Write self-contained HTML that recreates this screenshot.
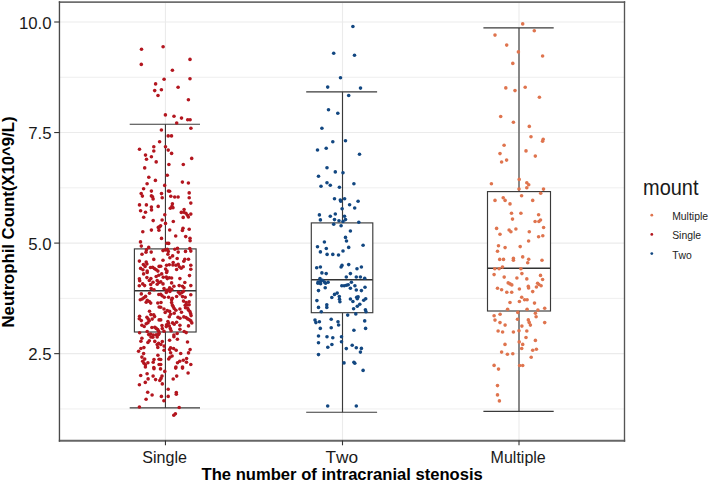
<!DOCTYPE html><html><head><meta charset="utf-8"><style>svg text{font-kerning:none}html,body{margin:0;padding:0;background:#fff;width:709px;height:483px;overflow:hidden}</style></head><body><svg width="709" height="483" viewBox="0 0 709 483" style="position:absolute;left:0;top:0">
<rect x="0" y="0" width="709" height="483" fill="#fff"/>
<line x1="59.6" x2="624.4" y1="408.93" y2="408.93" stroke="#ebebeb" stroke-width="0.8"/>
<line x1="59.6" x2="624.4" y1="298.38" y2="298.38" stroke="#ebebeb" stroke-width="0.8"/>
<line x1="59.6" x2="624.4" y1="187.82" y2="187.82" stroke="#ebebeb" stroke-width="0.8"/>
<line x1="59.6" x2="624.4" y1="77.28" y2="77.28" stroke="#ebebeb" stroke-width="0.8"/>
<line x1="59.6" x2="624.4" y1="353.65" y2="353.65" stroke="#ebebeb" stroke-width="1.1"/>
<line x1="59.6" x2="624.4" y1="243.10" y2="243.10" stroke="#ebebeb" stroke-width="1.1"/>
<line x1="59.6" x2="624.4" y1="132.55" y2="132.55" stroke="#ebebeb" stroke-width="1.1"/>
<line x1="59.6" x2="624.4" y1="22.00" y2="22.00" stroke="#ebebeb" stroke-width="1.1"/>
<line x1="165.45" x2="165.45" y1="1.7" y2="440.5" stroke="#ebebeb" stroke-width="1.1"/>
<line x1="342.5" x2="342.5" y1="1.7" y2="440.5" stroke="#ebebeb" stroke-width="1.1"/>
<line x1="519.0" x2="519.0" y1="1.7" y2="440.5" stroke="#ebebeb" stroke-width="1.1"/>
<line x1="129.7" x2="200.0" y1="124.2" y2="124.2" stroke="#3a3a3a" stroke-width="1.15" fill="none"/>
<line x1="129.7" x2="200.0" y1="407.9" y2="407.9" stroke="#3a3a3a" stroke-width="1.15" fill="none"/>
<line x1="165.45" x2="165.45" y1="124.2" y2="248.9" stroke="#3a3a3a" stroke-width="1.15" fill="none"/>
<line x1="165.45" x2="165.45" y1="332.0" y2="407.9" stroke="#3a3a3a" stroke-width="1.15" fill="none"/>
<rect x="134.4" y="248.9" width="61.70" height="83.10" stroke="#3a3a3a" stroke-width="1.15" fill="#fff"/>
<line x1="134.4" x2="196.1" y1="290.8" y2="290.8" stroke="#333" stroke-width="1.6"/>
<line x1="306.2" x2="377.1" y1="91.8" y2="91.8" stroke="#3a3a3a" stroke-width="1.15" fill="none"/>
<line x1="306.2" x2="377.1" y1="412.2" y2="412.2" stroke="#3a3a3a" stroke-width="1.15" fill="none"/>
<line x1="342.5" x2="342.5" y1="91.8" y2="222.9" stroke="#3a3a3a" stroke-width="1.15" fill="none"/>
<line x1="342.5" x2="342.5" y1="312.7" y2="412.2" stroke="#3a3a3a" stroke-width="1.15" fill="none"/>
<rect x="311.3" y="222.9" width="61.50" height="89.80" stroke="#3a3a3a" stroke-width="1.15" fill="#fff"/>
<line x1="311.3" x2="372.8" y1="279.8" y2="279.8" stroke="#333" stroke-width="1.6"/>
<line x1="483.4" x2="553.7" y1="27.9" y2="27.9" stroke="#3a3a3a" stroke-width="1.15" fill="none"/>
<line x1="483.4" x2="553.7" y1="411.3" y2="411.3" stroke="#3a3a3a" stroke-width="1.15" fill="none"/>
<line x1="519.0" x2="519.0" y1="27.9" y2="191.6" stroke="#3a3a3a" stroke-width="1.15" fill="none"/>
<line x1="519.0" x2="519.0" y1="311.0" y2="411.3" stroke="#3a3a3a" stroke-width="1.15" fill="none"/>
<rect x="487.5" y="191.6" width="63.00" height="119.40" stroke="#3a3a3a" stroke-width="1.15" fill="#fff"/>
<line x1="487.5" x2="550.5" y1="268.3" y2="268.3" stroke="#333" stroke-width="1.6"/>
<g fill="#B3161F"><circle cx="141.5" cy="49.3" r="1.8"/><circle cx="163.1" cy="46.8" r="1.8"/><circle cx="190.0" cy="59.4" r="1.8"/><circle cx="141.3" cy="64.4" r="1.8"/><circle cx="172.4" cy="70.2" r="1.8"/><circle cx="164.1" cy="79.3" r="1.8"/><circle cx="190.0" cy="78.7" r="1.8"/><circle cx="155.6" cy="83.9" r="1.8"/><circle cx="178.1" cy="87.2" r="1.8"/><circle cx="154.7" cy="90.6" r="1.8"/><circle cx="161.4" cy="89.7" r="1.8"/><circle cx="158.0" cy="95.5" r="1.8"/><circle cx="188.4" cy="99.7" r="1.8"/><circle cx="165.4" cy="114.9" r="1.8"/><circle cx="174.0" cy="116.3" r="1.8"/><circle cx="181.5" cy="118.1" r="1.8"/><circle cx="187.7" cy="119.7" r="1.8"/><circle cx="190.1" cy="119.7" r="1.8"/><circle cx="176.7" cy="123.0" r="1.8"/><circle cx="190.9" cy="128.3" r="1.8"/><circle cx="161.4" cy="130.0" r="1.8"/><circle cx="168.2" cy="135.9" r="1.8"/><circle cx="171.5" cy="135.9" r="1.8"/><circle cx="159.6" cy="141.7" r="1.8"/><circle cx="153.8" cy="146.7" r="1.8"/><circle cx="165.5" cy="146.7" r="1.8"/><circle cx="139.5" cy="149.3" r="1.8"/><circle cx="153.8" cy="151.0" r="1.8"/><circle cx="168.2" cy="150.1" r="1.8"/><circle cx="171.6" cy="153.4" r="1.8"/><circle cx="145.5" cy="155.1" r="1.8"/><circle cx="151.4" cy="156.7" r="1.8"/><circle cx="146.5" cy="159.3" r="1.8"/><circle cx="191.7" cy="158.4" r="1.8"/><circle cx="156.2" cy="161.9" r="1.8"/><circle cx="168.9" cy="164.5" r="1.8"/><circle cx="183.3" cy="164.5" r="1.8"/><circle cx="144.7" cy="167.9" r="1.8"/><circle cx="167.3" cy="175.2" r="1.8"/><circle cx="148.8" cy="177.2" r="1.8"/><circle cx="155.4" cy="180.4" r="1.8"/><circle cx="182.4" cy="182.1" r="1.8"/><circle cx="188.4" cy="183.0" r="1.8"/><circle cx="147.1" cy="183.7" r="1.8"/><circle cx="164.7" cy="185.4" r="1.8"/><circle cx="143.6" cy="188.8" r="1.8"/><circle cx="168.4" cy="191.0" r="1.8"/><circle cx="169.6" cy="191.3" r="1.8"/><circle cx="151.4" cy="191.1" r="1.8"/><circle cx="141.2" cy="193.5" r="1.8"/><circle cx="142.4" cy="196.1" r="1.8"/><circle cx="161.5" cy="193.6" r="1.8"/><circle cx="151.4" cy="195.9" r="1.8"/><circle cx="152.5" cy="196.7" r="1.8"/><circle cx="189.2" cy="192.9" r="1.8"/><circle cx="170.8" cy="196.2" r="1.8"/><circle cx="174.7" cy="197.0" r="1.8"/><circle cx="178.1" cy="197.0" r="1.8"/><circle cx="189.2" cy="197.8" r="1.8"/><circle cx="162.2" cy="197.8" r="1.8"/><circle cx="153.1" cy="198.9" r="1.8"/><circle cx="139.5" cy="204.9" r="1.8"/><circle cx="146.4" cy="204.9" r="1.8"/><circle cx="151.4" cy="207.1" r="1.8"/><circle cx="151.5" cy="209.9" r="1.8"/><circle cx="158.2" cy="206.4" r="1.8"/><circle cx="140.6" cy="210.7" r="1.8"/><circle cx="145.5" cy="212.2" r="1.8"/><circle cx="143.7" cy="217.3" r="1.8"/><circle cx="153.2" cy="220.6" r="1.8"/><circle cx="162.1" cy="220.0" r="1.8"/><circle cx="164.8" cy="214.7" r="1.8"/><circle cx="165.5" cy="223.4" r="1.8"/><circle cx="158.3" cy="227.4" r="1.8"/><circle cx="159.6" cy="226.9" r="1.8"/><circle cx="160.6" cy="225.7" r="1.8"/><circle cx="158.9" cy="230.2" r="1.8"/><circle cx="151.4" cy="230.1" r="1.8"/><circle cx="142.8" cy="231.8" r="1.8"/><circle cx="161.5" cy="238.4" r="1.8"/><circle cx="172.4" cy="203.7" r="1.8"/><circle cx="172.0" cy="206.2" r="1.8"/><circle cx="170.3" cy="208.3" r="1.8"/><circle cx="173.0" cy="207.7" r="1.8"/><circle cx="190.8" cy="203.1" r="1.8"/><circle cx="184.1" cy="209.5" r="1.8"/><circle cx="181.3" cy="212.4" r="1.8"/><circle cx="183.8" cy="212.3" r="1.8"/><circle cx="185.9" cy="213.3" r="1.8"/><circle cx="187.5" cy="215.3" r="1.8"/><circle cx="188.4" cy="217.0" r="1.8"/><circle cx="190.8" cy="214.1" r="1.8"/><circle cx="183.2" cy="217.4" r="1.8"/><circle cx="173.3" cy="221.5" r="1.8"/><circle cx="169.7" cy="230.0" r="1.8"/><circle cx="183.0" cy="228.2" r="1.8"/><circle cx="182.4" cy="230.5" r="1.8"/><circle cx="189.2" cy="229.2" r="1.8"/><circle cx="175.7" cy="236.0" r="1.8"/><circle cx="185.7" cy="236.6" r="1.8"/><circle cx="190.0" cy="238.3" r="1.8"/><circle cx="154.0" cy="368.7" r="1.8"/><circle cx="160.5" cy="368.9" r="1.8"/><circle cx="164.8" cy="371.4" r="1.8"/><circle cx="175.7" cy="368.1" r="1.8"/><circle cx="182.5" cy="368.1" r="1.8"/><circle cx="188.1" cy="373.0" r="1.8"/><circle cx="140.7" cy="375.5" r="1.8"/><circle cx="147.1" cy="373.7" r="1.8"/><circle cx="153.1" cy="376.1" r="1.8"/><circle cx="162.0" cy="376.1" r="1.8"/><circle cx="161.0" cy="378.4" r="1.8"/><circle cx="159.8" cy="380.5" r="1.8"/><circle cx="148.1" cy="378.9" r="1.8"/><circle cx="155.6" cy="379.6" r="1.8"/><circle cx="145.3" cy="382.4" r="1.8"/><circle cx="139.4" cy="384.8" r="1.8"/><circle cx="162.3" cy="383.9" r="1.8"/><circle cx="173.2" cy="379.0" r="1.8"/><circle cx="176.7" cy="376.1" r="1.8"/><circle cx="168.2" cy="389.2" r="1.8"/><circle cx="176.3" cy="392.5" r="1.8"/><circle cx="176.3" cy="394.2" r="1.8"/><circle cx="147.7" cy="392.3" r="1.8"/><circle cx="152.1" cy="395.0" r="1.8"/><circle cx="161.4" cy="396.4" r="1.8"/><circle cx="168.2" cy="396.4" r="1.8"/><circle cx="146.1" cy="399.3" r="1.8"/><circle cx="163.9" cy="400.7" r="1.8"/><circle cx="139.4" cy="407.0" r="1.8"/><circle cx="179.2" cy="407.5" r="1.8"/><circle cx="175.4" cy="413.7" r="1.8"/><circle cx="173.8" cy="415.3" r="1.8"/><circle cx="140.5" cy="241.9" r="1.8"/><circle cx="141.3" cy="246.1" r="1.8"/><circle cx="148.7" cy="247.4" r="1.8"/><circle cx="146.4" cy="249.9" r="1.8"/><circle cx="146.0" cy="252.3" r="1.8"/><circle cx="151.2" cy="252.1" r="1.8"/><circle cx="142.0" cy="254.2" r="1.8"/><circle cx="153.8" cy="259.4" r="1.8"/><circle cx="139.4" cy="261.1" r="1.8"/><circle cx="146.2" cy="262.0" r="1.8"/><circle cx="146.9" cy="264.0" r="1.8"/><circle cx="143.4" cy="264.6" r="1.8"/><circle cx="145.1" cy="266.5" r="1.8"/><circle cx="140.6" cy="268.4" r="1.8"/><circle cx="142.9" cy="269.8" r="1.8"/><circle cx="150.5" cy="267.5" r="1.8"/><circle cx="152.6" cy="267.2" r="1.8"/><circle cx="154.4" cy="268.6" r="1.8"/><circle cx="156.2" cy="269.8" r="1.8"/><circle cx="159.1" cy="266.4" r="1.8"/><circle cx="147.2" cy="271.0" r="1.8"/><circle cx="157.9" cy="271.1" r="1.8"/><circle cx="190.1" cy="240.8" r="1.8"/><circle cx="167.0" cy="243.3" r="1.8"/><circle cx="168.7" cy="243.4" r="1.8"/><circle cx="163.0" cy="250.6" r="1.8"/><circle cx="165.4" cy="249.9" r="1.8"/><circle cx="167.3" cy="249.3" r="1.8"/><circle cx="168.3" cy="251.4" r="1.8"/><circle cx="167.9" cy="254.2" r="1.8"/><circle cx="174.9" cy="249.3" r="1.8"/><circle cx="177.5" cy="248.3" r="1.8"/><circle cx="178.2" cy="252.1" r="1.8"/><circle cx="185.5" cy="251.4" r="1.8"/><circle cx="189.8" cy="248.6" r="1.8"/><circle cx="190.8" cy="251.1" r="1.8"/><circle cx="172.6" cy="255.9" r="1.8"/><circle cx="169.9" cy="257.7" r="1.8"/><circle cx="177.2" cy="258.5" r="1.8"/><circle cx="163.0" cy="260.2" r="1.8"/><circle cx="184.8" cy="259.2" r="1.8"/><circle cx="188.5" cy="259.3" r="1.8"/><circle cx="183.8" cy="261.3" r="1.8"/><circle cx="173.2" cy="262.5" r="1.8"/><circle cx="172.9" cy="265.0" r="1.8"/><circle cx="166.6" cy="265.3" r="1.8"/><circle cx="169.3" cy="264.8" r="1.8"/><circle cx="175.9" cy="265.2" r="1.8"/><circle cx="178.2" cy="264.2" r="1.8"/><circle cx="179.3" cy="266.8" r="1.8"/><circle cx="183.2" cy="266.8" r="1.8"/><circle cx="181.2" cy="268.3" r="1.8"/><circle cx="176.6" cy="269.5" r="1.8"/><circle cx="160.7" cy="266.2" r="1.8"/><circle cx="165.6" cy="269.1" r="1.8"/><circle cx="167.0" cy="271.0" r="1.8"/><circle cx="190.8" cy="265.2" r="1.8"/><circle cx="190.8" cy="269.3" r="1.8"/><circle cx="143.6" cy="273.9" r="1.8"/><circle cx="147.2" cy="272.5" r="1.8"/><circle cx="139.4" cy="278.8" r="1.8"/><circle cx="139.7" cy="280.7" r="1.8"/><circle cx="146.9" cy="277.6" r="1.8"/><circle cx="150.9" cy="278.6" r="1.8"/><circle cx="149.3" cy="280.5" r="1.8"/><circle cx="153.0" cy="282.3" r="1.8"/><circle cx="150.7" cy="284.5" r="1.8"/><circle cx="156.2" cy="276.5" r="1.8"/><circle cx="158.8" cy="275.3" r="1.8"/><circle cx="157.2" cy="280.5" r="1.8"/><circle cx="158.8" cy="282.6" r="1.8"/><circle cx="157.2" cy="284.3" r="1.8"/><circle cx="142.7" cy="283.9" r="1.8"/><circle cx="144.6" cy="285.6" r="1.8"/><circle cx="139.3" cy="285.8" r="1.8"/><circle cx="151.2" cy="288.6" r="1.8"/><circle cx="154.0" cy="289.8" r="1.8"/><circle cx="149.5" cy="293.2" r="1.8"/><circle cx="141.3" cy="293.9" r="1.8"/><circle cx="145.6" cy="296.4" r="1.8"/><circle cx="143.9" cy="297.7" r="1.8"/><circle cx="140.3" cy="299.7" r="1.8"/><circle cx="142.2" cy="299.0" r="1.8"/><circle cx="147.3" cy="300.4" r="1.8"/><circle cx="149.3" cy="301.5" r="1.8"/><circle cx="146.2" cy="302.3" r="1.8"/><circle cx="150.7" cy="303.1" r="1.8"/><circle cx="158.8" cy="294.5" r="1.8"/><circle cx="157.8" cy="303.0" r="1.8"/><circle cx="166.6" cy="272.5" r="1.8"/><circle cx="161.7" cy="273.9" r="1.8"/><circle cx="163.3" cy="277.2" r="1.8"/><circle cx="166.3" cy="277.0" r="1.8"/><circle cx="167.3" cy="278.6" r="1.8"/><circle cx="169.3" cy="277.8" r="1.8"/><circle cx="171.6" cy="278.0" r="1.8"/><circle cx="179.9" cy="278.6" r="1.8"/><circle cx="189.5" cy="275.6" r="1.8"/><circle cx="160.8" cy="281.9" r="1.8"/><circle cx="163.0" cy="283.9" r="1.8"/><circle cx="171.6" cy="282.9" r="1.8"/><circle cx="173.9" cy="286.2" r="1.8"/><circle cx="179.2" cy="285.6" r="1.8"/><circle cx="182.5" cy="286.2" r="1.8"/><circle cx="184.0" cy="287.8" r="1.8"/><circle cx="184.8" cy="282.5" r="1.8"/><circle cx="190.8" cy="285.6" r="1.8"/><circle cx="164.0" cy="288.6" r="1.8"/><circle cx="169.6" cy="287.9" r="1.8"/><circle cx="166.6" cy="290.4" r="1.8"/><circle cx="168.6" cy="289.7" r="1.8"/><circle cx="171.8" cy="289.4" r="1.8"/><circle cx="166.3" cy="292.5" r="1.8"/><circle cx="169.9" cy="291.5" r="1.8"/><circle cx="178.5" cy="292.2" r="1.8"/><circle cx="180.0" cy="294.0" r="1.8"/><circle cx="182.0" cy="292.5" r="1.8"/><circle cx="183.5" cy="291.3" r="1.8"/><circle cx="160.7" cy="294.2" r="1.8"/><circle cx="162.1" cy="295.7" r="1.8"/><circle cx="164.3" cy="297.2" r="1.8"/><circle cx="168.6" cy="297.2" r="1.8"/><circle cx="172.3" cy="298.2" r="1.8"/><circle cx="171.6" cy="299.8" r="1.8"/><circle cx="176.6" cy="296.5" r="1.8"/><circle cx="182.5" cy="296.6" r="1.8"/><circle cx="185.2" cy="297.3" r="1.8"/><circle cx="190.8" cy="294.8" r="1.8"/><circle cx="171.6" cy="302.5" r="1.8"/><circle cx="183.5" cy="301.1" r="1.8"/><circle cx="186.2" cy="302.6" r="1.8"/><circle cx="189.1" cy="301.8" r="1.8"/><circle cx="161.0" cy="302.5" r="1.8"/><circle cx="159.1" cy="307.0" r="1.8"/><circle cx="149.5" cy="311.3" r="1.8"/><circle cx="150.9" cy="314.6" r="1.8"/><circle cx="153.7" cy="314.7" r="1.8"/><circle cx="154.6" cy="316.6" r="1.8"/><circle cx="152.2" cy="319.1" r="1.8"/><circle cx="139.6" cy="316.3" r="1.8"/><circle cx="139.3" cy="318.7" r="1.8"/><circle cx="141.3" cy="320.6" r="1.8"/><circle cx="146.9" cy="317.3" r="1.8"/><circle cx="148.2" cy="319.1" r="1.8"/><circle cx="149.3" cy="320.7" r="1.8"/><circle cx="147.9" cy="322.7" r="1.8"/><circle cx="146.2" cy="323.7" r="1.8"/><circle cx="141.9" cy="325.2" r="1.8"/><circle cx="144.2" cy="326.5" r="1.8"/><circle cx="159.1" cy="319.9" r="1.8"/><circle cx="151.9" cy="327.5" r="1.8"/><circle cx="154.8" cy="327.2" r="1.8"/><circle cx="156.2" cy="328.4" r="1.8"/><circle cx="157.7" cy="329.5" r="1.8"/><circle cx="158.6" cy="331.2" r="1.8"/><circle cx="159.1" cy="333.2" r="1.8"/><circle cx="139.6" cy="332.8" r="1.8"/><circle cx="147.2" cy="331.5" r="1.8"/><circle cx="148.7" cy="334.6" r="1.8"/><circle cx="150.7" cy="334.1" r="1.8"/><circle cx="153.3" cy="335.1" r="1.8"/><circle cx="156.2" cy="334.8" r="1.8"/><circle cx="158.6" cy="334.6" r="1.8"/><circle cx="172.3" cy="305.0" r="1.8"/><circle cx="173.2" cy="306.6" r="1.8"/><circle cx="185.2" cy="305.3" r="1.8"/><circle cx="187.3" cy="305.0" r="1.8"/><circle cx="189.1" cy="304.8" r="1.8"/><circle cx="185.5" cy="307.8" r="1.8"/><circle cx="187.8" cy="308.5" r="1.8"/><circle cx="188.6" cy="310.3" r="1.8"/><circle cx="189.9" cy="311.6" r="1.8"/><circle cx="190.6" cy="313.6" r="1.8"/><circle cx="191.1" cy="315.6" r="1.8"/><circle cx="160.7" cy="307.3" r="1.8"/><circle cx="164.0" cy="309.0" r="1.8"/><circle cx="165.2" cy="312.5" r="1.8"/><circle cx="167.3" cy="310.6" r="1.8"/><circle cx="169.6" cy="311.4" r="1.8"/><circle cx="170.6" cy="314.3" r="1.8"/><circle cx="169.3" cy="316.7" r="1.8"/><circle cx="174.2" cy="313.3" r="1.8"/><circle cx="174.2" cy="308.5" r="1.8"/><circle cx="175.9" cy="310.3" r="1.8"/><circle cx="179.9" cy="309.0" r="1.8"/><circle cx="181.5" cy="312.3" r="1.8"/><circle cx="178.0" cy="317.2" r="1.8"/><circle cx="180.0" cy="318.2" r="1.8"/><circle cx="183.8" cy="316.9" r="1.8"/><circle cx="186.0" cy="317.6" r="1.8"/><circle cx="187.7" cy="318.9" r="1.8"/><circle cx="189.3" cy="319.8" r="1.8"/><circle cx="190.8" cy="320.9" r="1.8"/><circle cx="191.8" cy="322.9" r="1.8"/><circle cx="160.7" cy="319.9" r="1.8"/><circle cx="167.9" cy="321.5" r="1.8"/><circle cx="168.6" cy="323.3" r="1.8"/><circle cx="166.6" cy="324.7" r="1.8"/><circle cx="166.3" cy="326.6" r="1.8"/><circle cx="162.0" cy="325.5" r="1.8"/><circle cx="162.3" cy="328.6" r="1.8"/><circle cx="164.0" cy="331.3" r="1.8"/><circle cx="169.3" cy="326.0" r="1.8"/><circle cx="170.3" cy="328.6" r="1.8"/><circle cx="171.1" cy="330.8" r="1.8"/><circle cx="172.6" cy="322.9" r="1.8"/><circle cx="174.2" cy="324.2" r="1.8"/><circle cx="176.6" cy="322.2" r="1.8"/><circle cx="179.9" cy="325.2" r="1.8"/><circle cx="179.9" cy="329.2" r="1.8"/><circle cx="188.5" cy="325.9" r="1.8"/><circle cx="184.2" cy="331.5" r="1.8"/><circle cx="186.2" cy="332.6" r="1.8"/><circle cx="177.2" cy="333.5" r="1.8"/><circle cx="173.9" cy="335.1" r="1.8"/><circle cx="141.9" cy="338.3" r="1.8"/><circle cx="140.9" cy="341.2" r="1.8"/><circle cx="147.9" cy="342.5" r="1.8"/><circle cx="149.3" cy="340.8" r="1.8"/><circle cx="150.9" cy="337.0" r="1.8"/><circle cx="152.8" cy="337.2" r="1.8"/><circle cx="157.2" cy="337.0" r="1.8"/><circle cx="154.8" cy="341.4" r="1.8"/><circle cx="157.2" cy="344.6" r="1.8"/><circle cx="158.6" cy="343.4" r="1.8"/><circle cx="157.8" cy="347.4" r="1.8"/><circle cx="140.9" cy="348.5" r="1.8"/><circle cx="143.9" cy="347.6" r="1.8"/><circle cx="138.6" cy="351.2" r="1.8"/><circle cx="143.6" cy="353.6" r="1.8"/><circle cx="141.9" cy="357.1" r="1.8"/><circle cx="144.7" cy="359.1" r="1.8"/><circle cx="142.7" cy="361.2" r="1.8"/><circle cx="144.0" cy="363.2" r="1.8"/><circle cx="145.4" cy="364.8" r="1.8"/><circle cx="147.9" cy="362.8" r="1.8"/><circle cx="154.0" cy="359.5" r="1.8"/><circle cx="153.2" cy="362.2" r="1.8"/><circle cx="157.9" cy="355.2" r="1.8"/><circle cx="159.1" cy="359.2" r="1.8"/><circle cx="159.1" cy="364.5" r="1.8"/><circle cx="153.8" cy="367.5" r="1.8"/><circle cx="145.4" cy="367.0" r="1.8"/><circle cx="173.9" cy="336.7" r="1.8"/><circle cx="169.6" cy="340.3" r="1.8"/><circle cx="177.4" cy="339.3" r="1.8"/><circle cx="187.5" cy="342.0" r="1.8"/><circle cx="162.3" cy="341.6" r="1.8"/><circle cx="160.8" cy="344.5" r="1.8"/><circle cx="164.1" cy="346.1" r="1.8"/><circle cx="164.1" cy="350.2" r="1.8"/><circle cx="170.6" cy="347.8" r="1.8"/><circle cx="169.6" cy="349.6" r="1.8"/><circle cx="173.6" cy="348.5" r="1.8"/><circle cx="176.2" cy="350.2" r="1.8"/><circle cx="170.6" cy="352.7" r="1.8"/><circle cx="172.1" cy="356.0" r="1.8"/><circle cx="169.9" cy="357.3" r="1.8"/><circle cx="168.7" cy="359.0" r="1.8"/><circle cx="180.7" cy="353.5" r="1.8"/><circle cx="190.1" cy="349.6" r="1.8"/><circle cx="188.5" cy="352.9" r="1.8"/><circle cx="186.6" cy="358.5" r="1.8"/><circle cx="183.3" cy="360.2" r="1.8"/><circle cx="179.7" cy="361.2" r="1.8"/><circle cx="177.5" cy="362.8" r="1.8"/><circle cx="186.5" cy="362.2" r="1.8"/><circle cx="190.8" cy="364.5" r="1.8"/><circle cx="160.7" cy="359.5" r="1.8"/><circle cx="160.7" cy="364.5" r="1.8"/><circle cx="175.9" cy="367.1" r="1.8"/><circle cx="182.5" cy="367.1" r="1.8"/></g>
<g fill="#124781"><circle cx="352.9" cy="26.5" r="1.8"/><circle cx="333.7" cy="53.3" r="1.8"/><circle cx="354.5" cy="55.2" r="1.8"/><circle cx="340.5" cy="77.8" r="1.8"/><circle cx="327.7" cy="87.1" r="1.8"/><circle cx="360.5" cy="88.1" r="1.8"/><circle cx="348.7" cy="95.5" r="1.8"/><circle cx="328.5" cy="109.8" r="1.8"/><circle cx="337.8" cy="113.2" r="1.8"/><circle cx="321.9" cy="128.2" r="1.8"/><circle cx="332.8" cy="141.7" r="1.8"/><circle cx="345.5" cy="140.7" r="1.8"/><circle cx="317.5" cy="150.0" r="1.8"/><circle cx="326.2" cy="148.3" r="1.8"/><circle cx="359.5" cy="154.3" r="1.8"/><circle cx="327.0" cy="167.8" r="1.8"/><circle cx="335.3" cy="171.9" r="1.8"/><circle cx="343.0" cy="172.8" r="1.8"/><circle cx="318.5" cy="176.3" r="1.8"/><circle cx="327.0" cy="182.7" r="1.8"/><circle cx="330.3" cy="185.2" r="1.8"/><circle cx="321.0" cy="186.2" r="1.8"/><circle cx="339.4" cy="187.2" r="1.8"/><circle cx="353.9" cy="183.8" r="1.8"/><circle cx="334.5" cy="198.7" r="1.8"/><circle cx="344.6" cy="198.7" r="1.8"/><circle cx="340.3" cy="200.0" r="1.8"/><circle cx="340.8" cy="201.2" r="1.8"/><circle cx="358.1" cy="201.3" r="1.8"/><circle cx="349.6" cy="204.7" r="1.8"/><circle cx="354.7" cy="208.0" r="1.8"/><circle cx="342.1" cy="208.8" r="1.8"/><circle cx="319.4" cy="214.9" r="1.8"/><circle cx="335.3" cy="214.0" r="1.8"/><circle cx="330.3" cy="216.2" r="1.8"/><circle cx="320.4" cy="219.9" r="1.8"/><circle cx="334.5" cy="219.6" r="1.8"/><circle cx="344.5" cy="216.2" r="1.8"/><circle cx="345.5" cy="219.6" r="1.8"/><circle cx="339.0" cy="220.8" r="1.8"/><circle cx="343.0" cy="221.5" r="1.8"/><circle cx="333.7" cy="224.3" r="1.8"/><circle cx="341.1" cy="225.8" r="1.8"/><circle cx="358.8" cy="222.3" r="1.8"/><circle cx="350.4" cy="231.0" r="1.8"/><circle cx="345.5" cy="237.4" r="1.8"/><circle cx="346.5" cy="241.0" r="1.8"/><circle cx="324.4" cy="242.0" r="1.8"/><circle cx="317.5" cy="246.7" r="1.8"/><circle cx="326.3" cy="248.5" r="1.8"/><circle cx="320.4" cy="251.9" r="1.8"/><circle cx="348.7" cy="247.4" r="1.8"/><circle cx="363.1" cy="245.3" r="1.8"/><circle cx="343.0" cy="251.0" r="1.8"/><circle cx="327.1" cy="254.4" r="1.8"/><circle cx="332.8" cy="254.4" r="1.8"/><circle cx="338.5" cy="255.0" r="1.8"/><circle cx="316.7" cy="267.7" r="1.8"/><circle cx="320.4" cy="267.0" r="1.8"/><circle cx="321.9" cy="272.9" r="1.8"/><circle cx="326.2" cy="273.6" r="1.8"/><circle cx="341.1" cy="267.0" r="1.8"/><circle cx="342.0" cy="265.4" r="1.8"/><circle cx="348.7" cy="264.6" r="1.8"/><circle cx="357.0" cy="268.7" r="1.8"/><circle cx="361.4" cy="267.0" r="1.8"/><circle cx="350.4" cy="273.6" r="1.8"/><circle cx="346.3" cy="277.0" r="1.8"/><circle cx="356.3" cy="277.0" r="1.8"/><circle cx="360.4" cy="277.0" r="1.8"/><circle cx="364.7" cy="278.2" r="1.8"/><circle cx="320.0" cy="278.6" r="1.8"/><circle cx="318.1" cy="282.0" r="1.8"/><circle cx="320.6" cy="281.6" r="1.8"/><circle cx="322.5" cy="280.3" r="1.8"/><circle cx="324.4" cy="282.0" r="1.8"/><circle cx="325.6" cy="283.2" r="1.8"/><circle cx="328.1" cy="282.3" r="1.8"/><circle cx="320.6" cy="283.8" r="1.8"/><circle cx="317.9" cy="283.2" r="1.8"/><circle cx="325.2" cy="287.8" r="1.8"/><circle cx="318.5" cy="290.6" r="1.8"/><circle cx="341.8" cy="285.7" r="1.8"/><circle cx="344.2" cy="285.7" r="1.8"/><circle cx="346.5" cy="285.3" r="1.8"/><circle cx="348.2" cy="284.8" r="1.8"/><circle cx="351.4" cy="282.3" r="1.8"/><circle cx="350.4" cy="288.2" r="1.8"/><circle cx="354.9" cy="285.7" r="1.8"/><circle cx="356.3" cy="290.0" r="1.8"/><circle cx="361.4" cy="290.6" r="1.8"/><circle cx="365.0" cy="287.3" r="1.8"/><circle cx="331.8" cy="297.5" r="1.8"/><circle cx="334.5" cy="294.4" r="1.8"/><circle cx="337.2" cy="293.1" r="1.8"/><circle cx="339.3" cy="296.5" r="1.8"/><circle cx="339.5" cy="299.3" r="1.8"/><circle cx="339.9" cy="301.8" r="1.8"/><circle cx="316.9" cy="300.6" r="1.8"/><circle cx="350.4" cy="299.0" r="1.8"/><circle cx="352.9" cy="301.5" r="1.8"/><circle cx="356.7" cy="297.2" r="1.8"/><circle cx="358.1" cy="296.9" r="1.8"/><circle cx="357.3" cy="298.7" r="1.8"/><circle cx="363.7" cy="300.2" r="1.8"/><circle cx="365.7" cy="298.7" r="1.8"/><circle cx="326.8" cy="304.7" r="1.8"/><circle cx="326.8" cy="307.4" r="1.8"/><circle cx="318.5" cy="307.4" r="1.8"/><circle cx="321.3" cy="311.8" r="1.8"/><circle cx="353.6" cy="308.7" r="1.8"/><circle cx="357.3" cy="306.2" r="1.8"/><circle cx="359.8" cy="304.3" r="1.8"/><circle cx="365.4" cy="309.7" r="1.8"/><circle cx="366.0" cy="311.8" r="1.8"/><circle cx="347.7" cy="315.1" r="1.8"/><circle cx="355.8" cy="313.9" r="1.8"/><circle cx="315.0" cy="320.1" r="1.8"/><circle cx="315.9" cy="322.6" r="1.8"/><circle cx="319.4" cy="321.7" r="1.8"/><circle cx="331.2" cy="319.2" r="1.8"/><circle cx="338.0" cy="321.7" r="1.8"/><circle cx="338.6" cy="325.0" r="1.8"/><circle cx="364.7" cy="320.9" r="1.8"/><circle cx="320.3" cy="328.4" r="1.8"/><circle cx="331.2" cy="327.7" r="1.8"/><circle cx="365.6" cy="328.4" r="1.8"/><circle cx="353.9" cy="330.3" r="1.8"/><circle cx="318.5" cy="336.0" r="1.8"/><circle cx="327.0" cy="336.8" r="1.8"/><circle cx="332.8" cy="337.8" r="1.8"/><circle cx="341.5" cy="336.8" r="1.8"/><circle cx="341.5" cy="341.8" r="1.8"/><circle cx="318.5" cy="342.7" r="1.8"/><circle cx="331.9" cy="344.5" r="1.8"/><circle cx="327.8" cy="347.2" r="1.8"/><circle cx="352.2" cy="345.3" r="1.8"/><circle cx="346.3" cy="348.6" r="1.8"/><circle cx="356.3" cy="347.8" r="1.8"/><circle cx="361.4" cy="348.4" r="1.8"/><circle cx="360.4" cy="352.1" r="1.8"/><circle cx="318.5" cy="354.6" r="1.8"/><circle cx="344.0" cy="362.9" r="1.8"/><circle cx="353.9" cy="362.3" r="1.8"/><circle cx="354.8" cy="363.2" r="1.8"/><circle cx="363.1" cy="370.4" r="1.8"/><circle cx="327.7" cy="406.0" r="1.8"/><circle cx="356.3" cy="406.0" r="1.8"/></g>
<g fill="#DF744E"><circle cx="522.7" cy="23.9" r="1.8"/><circle cx="534.3" cy="30.8" r="1.8"/><circle cx="495.0" cy="35.1" r="1.8"/><circle cx="506.7" cy="45.1" r="1.8"/><circle cx="518.4" cy="51.9" r="1.8"/><circle cx="542.6" cy="56.0" r="1.8"/><circle cx="512.8" cy="63.4" r="1.8"/><circle cx="505.8" cy="87.9" r="1.8"/><circle cx="515.0" cy="90.6" r="1.8"/><circle cx="525.2" cy="87.2" r="1.8"/><circle cx="539.4" cy="97.2" r="1.8"/><circle cx="500.7" cy="116.5" r="1.8"/><circle cx="513.4" cy="122.3" r="1.8"/><circle cx="529.3" cy="126.4" r="1.8"/><circle cx="531.0" cy="136.8" r="1.8"/><circle cx="543.2" cy="139.3" r="1.8"/><circle cx="542.6" cy="141.2" r="1.8"/><circle cx="504.1" cy="145.2" r="1.8"/><circle cx="500.0" cy="153.6" r="1.8"/><circle cx="506.6" cy="160.1" r="1.8"/><circle cx="501.6" cy="162.0" r="1.8"/><circle cx="526.0" cy="150.9" r="1.8"/><circle cx="535.3" cy="156.1" r="1.8"/><circle cx="519.2" cy="179.4" r="1.8"/><circle cx="491.4" cy="183.8" r="1.8"/><circle cx="526.8" cy="182.8" r="1.8"/><circle cx="528.7" cy="184.7" r="1.8"/><circle cx="526.8" cy="187.8" r="1.8"/><circle cx="519.0" cy="189.0" r="1.8"/><circle cx="543.5" cy="189.1" r="1.8"/><circle cx="540.7" cy="193.2" r="1.8"/><circle cx="495.0" cy="200.4" r="1.8"/><circle cx="503.2" cy="197.7" r="1.8"/><circle cx="505.1" cy="200.4" r="1.8"/><circle cx="510.0" cy="203.9" r="1.8"/><circle cx="521.6" cy="195.7" r="1.8"/><circle cx="532.7" cy="200.4" r="1.8"/><circle cx="511.5" cy="213.2" r="1.8"/><circle cx="520.9" cy="213.2" r="1.8"/><circle cx="512.5" cy="219.1" r="1.8"/><circle cx="538.6" cy="214.7" r="1.8"/><circle cx="535.1" cy="221.5" r="1.8"/><circle cx="538.9" cy="221.5" r="1.8"/><circle cx="540.5" cy="220.0" r="1.8"/><circle cx="496.6" cy="228.4" r="1.8"/><circle cx="509.1" cy="230.0" r="1.8"/><circle cx="510.9" cy="231.7" r="1.8"/><circle cx="515.9" cy="229.0" r="1.8"/><circle cx="500.0" cy="234.3" r="1.8"/><circle cx="529.3" cy="231.7" r="1.8"/><circle cx="543.6" cy="227.5" r="1.8"/><circle cx="538.6" cy="236.7" r="1.8"/><circle cx="542.8" cy="235.8" r="1.8"/><circle cx="528.6" cy="241.0" r="1.8"/><circle cx="498.5" cy="245.8" r="1.8"/><circle cx="505.1" cy="247.6" r="1.8"/><circle cx="520.2" cy="246.6" r="1.8"/><circle cx="497.5" cy="251.2" r="1.8"/><circle cx="499.7" cy="259.4" r="1.8"/><circle cx="503.5" cy="259.4" r="1.8"/><circle cx="513.4" cy="258.4" r="1.8"/><circle cx="513.4" cy="260.3" r="1.8"/><circle cx="522.7" cy="256.9" r="1.8"/><circle cx="528.7" cy="259.3" r="1.8"/><circle cx="527.7" cy="262.8" r="1.8"/><circle cx="542.0" cy="260.3" r="1.8"/><circle cx="494.8" cy="268.7" r="1.8"/><circle cx="499.1" cy="268.7" r="1.8"/><circle cx="502.5" cy="267.1" r="1.8"/><circle cx="520.9" cy="268.7" r="1.8"/><circle cx="494.1" cy="274.6" r="1.8"/><circle cx="521.9" cy="273.6" r="1.8"/><circle cx="504.2" cy="277.1" r="1.8"/><circle cx="516.9" cy="278.0" r="1.8"/><circle cx="526.8" cy="278.9" r="1.8"/><circle cx="540.5" cy="275.4" r="1.8"/><circle cx="542.6" cy="279.5" r="1.8"/><circle cx="508.2" cy="282.9" r="1.8"/><circle cx="510.0" cy="283.9" r="1.8"/><circle cx="511.8" cy="284.9" r="1.8"/><circle cx="497.5" cy="288.2" r="1.8"/><circle cx="501.6" cy="289.7" r="1.8"/><circle cx="506.8" cy="292.3" r="1.8"/><circle cx="511.7" cy="292.3" r="1.8"/><circle cx="519.4" cy="289.0" r="1.8"/><circle cx="528.3" cy="286.4" r="1.8"/><circle cx="528.6" cy="288.0" r="1.8"/><circle cx="532.7" cy="291.6" r="1.8"/><circle cx="536.4" cy="287.0" r="1.8"/><circle cx="537.6" cy="283.3" r="1.8"/><circle cx="538.9" cy="284.5" r="1.8"/><circle cx="541.1" cy="285.8" r="1.8"/><circle cx="521.7" cy="297.2" r="1.8"/><circle cx="524.6" cy="299.7" r="1.8"/><circle cx="527.1" cy="299.7" r="1.8"/><circle cx="519.4" cy="301.5" r="1.8"/><circle cx="510.0" cy="302.5" r="1.8"/><circle cx="534.5" cy="303.1" r="1.8"/><circle cx="507.6" cy="309.2" r="1.8"/><circle cx="527.1" cy="309.2" r="1.8"/><circle cx="537.9" cy="310.0" r="1.8"/><circle cx="544.7" cy="308.3" r="1.8"/><circle cx="517.8" cy="312.4" r="1.8"/><circle cx="535.4" cy="313.3" r="1.8"/><circle cx="536.1" cy="316.7" r="1.8"/><circle cx="494.1" cy="315.8" r="1.8"/><circle cx="500.1" cy="314.3" r="1.8"/><circle cx="495.0" cy="320.1" r="1.8"/><circle cx="500.0" cy="322.6" r="1.8"/><circle cx="505.1" cy="325.1" r="1.8"/><circle cx="517.5" cy="319.2" r="1.8"/><circle cx="528.3" cy="319.9" r="1.8"/><circle cx="529.2" cy="322.4" r="1.8"/><circle cx="530.4" cy="325.1" r="1.8"/><circle cx="544.7" cy="322.6" r="1.8"/><circle cx="521.9" cy="326.1" r="1.8"/><circle cx="498.1" cy="331.0" r="1.8"/><circle cx="502.6" cy="332.0" r="1.8"/><circle cx="513.4" cy="332.0" r="1.8"/><circle cx="519.0" cy="330.7" r="1.8"/><circle cx="526.8" cy="331.0" r="1.8"/><circle cx="526.0" cy="337.5" r="1.8"/><circle cx="535.4" cy="340.4" r="1.8"/><circle cx="519.2" cy="341.9" r="1.8"/><circle cx="522.7" cy="344.4" r="1.8"/><circle cx="505.0" cy="344.4" r="1.8"/><circle cx="521.7" cy="348.5" r="1.8"/><circle cx="532.7" cy="350.3" r="1.8"/><circle cx="536.4" cy="349.3" r="1.8"/><circle cx="501.6" cy="352.1" r="1.8"/><circle cx="507.4" cy="354.3" r="1.8"/><circle cx="512.8" cy="353.7" r="1.8"/><circle cx="531.2" cy="357.2" r="1.8"/><circle cx="494.1" cy="365.4" r="1.8"/><circle cx="498.5" cy="369.1" r="1.8"/><circle cx="519.6" cy="365.5" r="1.8"/><circle cx="522.7" cy="365.5" r="1.8"/><circle cx="497.5" cy="385.6" r="1.8"/><circle cx="497.5" cy="394.9" r="1.8"/><circle cx="499.4" cy="400.9" r="1.8"/></g>
<line x1="58.8" x2="625.2" y1="2.1" y2="2.1" stroke="#6e6e6e" stroke-width="1.6"/>
<line x1="58.8" x2="625.2" y1="440.8" y2="440.8" stroke="#666" stroke-width="1.9"/>
<line x1="59.45" x2="59.45" y1="1.3" y2="441.7" stroke="#4a4a4a" stroke-width="1.35"/>
<line x1="624.5" x2="624.5" y1="1.3" y2="441.7" stroke="#555" stroke-width="1.35"/>
<line x1="54.2" x2="59.6" y1="353.65" y2="353.65" stroke="#333" stroke-width="1.1"/>
<line x1="54.2" x2="59.6" y1="243.10" y2="243.10" stroke="#333" stroke-width="1.1"/>
<line x1="54.2" x2="59.6" y1="132.55" y2="132.55" stroke="#333" stroke-width="1.1"/>
<line x1="54.2" x2="59.6" y1="22.00" y2="22.00" stroke="#333" stroke-width="1.1"/>
<line x1="165.45" x2="165.45" y1="440.5" y2="445.3" stroke="#333" stroke-width="1.1"/>
<line x1="342.5" x2="342.5" y1="440.5" y2="445.3" stroke="#333" stroke-width="1.1"/>
<line x1="519.0" x2="519.0" y1="440.5" y2="445.3" stroke="#333" stroke-width="1.1"/>
<text x="51.6" y="360.3" font-family="Liberation Sans, sans-serif" font-size="16.8" text-anchor="end" fill="#1a1a1a">2.5</text>
<text x="51.6" y="249.8" font-family="Liberation Sans, sans-serif" font-size="16.8" text-anchor="end" fill="#1a1a1a">5.0</text>
<text x="51.6" y="139.2" font-family="Liberation Sans, sans-serif" font-size="16.8" text-anchor="end" fill="#1a1a1a">7.5</text>
<text x="51.6" y="28.7" font-family="Liberation Sans, sans-serif" font-size="16.8" text-anchor="end" fill="#1a1a1a">10.0</text>
<text x="164.65" y="462.9" font-family="Liberation Sans, sans-serif" font-size="16.1" text-anchor="middle" fill="#1a1a1a">Single</text>
<text x="341.70" y="462.9" font-family="Liberation Sans, sans-serif" font-size="16.1" text-anchor="middle" textLength="32.6" lengthAdjust="spacingAndGlyphs" fill="#1a1a1a">Two</text>
<text x="518.20" y="462.9" font-family="Liberation Sans, sans-serif" font-size="16.1" text-anchor="middle" textLength="55.2" lengthAdjust="spacingAndGlyphs" fill="#1a1a1a">Multiple</text>
<text x="342.2" y="480.4" font-family="Liberation Sans, sans-serif" font-size="16.6" font-weight="bold" text-anchor="middle" fill="#000">The number of intracranial stenosis</text>
<text transform="translate(14.4,222.0) rotate(-90)" x="0" y="0" font-family="Liberation Sans, sans-serif" font-size="16.7" font-weight="bold" text-anchor="middle" fill="#000">Neutrophil Count(X10^9/L)</text>
<text x="643.0" y="194.6" font-family="Liberation Sans, sans-serif" font-size="21.5" textLength="55.5" lengthAdjust="spacingAndGlyphs" fill="#1a1a1a">mount</text>
<circle cx="651.8" cy="215.2" r="1.4" fill="#DF744E"/>
<text x="672.2" y="220.1" font-family="Liberation Sans, sans-serif" font-size="10.4" fill="#222">Multiple</text>
<circle cx="651.8" cy="234.4" r="1.4" fill="#B3161F"/>
<text x="672.2" y="239.3" font-family="Liberation Sans, sans-serif" font-size="10.4" fill="#222">Single</text>
<circle cx="651.8" cy="253.6" r="1.4" fill="#124781"/>
<text x="672.2" y="258.5" font-family="Liberation Sans, sans-serif" font-size="10.4" fill="#222">Two</text>
</svg></body></html>
